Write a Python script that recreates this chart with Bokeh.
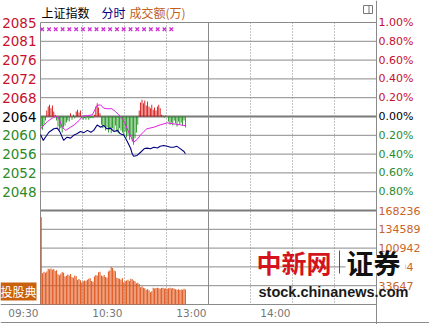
import numpy as np
from bokeh.plotting import figure
from bokeh.models import Range1d, ColumnDataSource
from bokeh.core.properties import value
from bokeh.embed import file_html
from bokeh.resources import INLINE

# ---------------- data ----------------
prev_close = 2064.55

pct_ticks = [1.0, 0.8, 0.6, 0.4, 0.2, 0.0, -0.2, -0.4, -0.6, -0.8]
price_labels = ["2085", "2081", "2076", "2072", "2068", "2064", "2060", "2056", "2052", "2048"]
pct_labels = ["1.00%", "0.80%", "0.60%", "0.40%", "0.20%", "0.00%", "0.20%", "0.40%", "0.60%", "0.80%"]
vol_ticks = [168236, 134589, 100942, 67294, 33647]
vol_labels = ["168236", "134589", "100942", "67294", "33647"]
time_ticks = [0, 60, 120, 180]
time_labels = ["09:30", "10:30", "13:00", "14:00"]

# index (navy line): minutes after 09:30, price
index_t = [0, 2, 4, 6, 9.5, 12, 14, 16.5, 19, 21.5, 24, 26, 28.5, 31, 33.5, 36, 38, 40.5, 43, 45,
           47.5, 50, 52.5, 55, 57, 59.5, 62, 64.5, 65.5, 66.5, 69, 71.5, 74, 76, 78.5, 81, 83.5,
           85.5, 88, 90.5, 93, 95, 97.5, 100, 102.5, 103.5]
index_p = [2060.6, 2059.3, 2060.2, 2061.1, 2061.85, 2062.0, 2061.1, 2059.3, 2060.0, 2059.8, 2060.5,
           2060.75, 2061.25, 2061.0, 2061.5, 2061.1, 2061.5, 2062.7, 2062.2, 2062.6, 2061.85, 2062.0,
           2061.25, 2061.5, 2060.75, 2060.5, 2059.05, 2057.45, 2056.35, 2055.8, 2056.0, 2056.7,
           2057.45, 2057.6, 2057.45, 2057.8, 2057.65, 2058.0, 2058.2, 2058.0, 2057.8, 2057.8,
           2058.0, 2057.45, 2056.85, 2056.35]

# unweighted index (magenta line)
avg_t = [0, 2.5, 5, 7.5, 9.5, 12, 14, 15.5, 18, 21.5, 24, 27.5, 30, 33.5, 37, 39.5, 40.5, 43, 45,
         47.5, 51, 53.5, 56, 59.5, 63, 66.5, 69, 71.5, 74, 76, 81, 85.5, 90.5, 95, 100, 103.5]
avg_p = [2061.8, 2062.7, 2063.45, 2064.0, 2064.4, 2064.6, 2063.5, 2062.2, 2061.5, 2062.2, 2062.7,
         2063.65, 2064.6, 2064.75, 2064.9, 2066.4, 2067.0, 2067.1, 2066.4, 2066.25, 2066.25,
         2065.65, 2064.9, 2063.65, 2061.1, 2058.9, 2059.5, 2060.5, 2061.3, 2061.85, 2062.2,
         2062.7, 2063.15, 2062.95, 2062.7, 2062.55]

# buy/sell power bars (price points relative to previous close), one per minute
power = [-2.2, -2.9, -1.8, -0.9, 1.3, 2.2, 2.6, 1.8, 2.4, 1.1,
         0.4, -0.9, -2.2, -3.1, -2.6, -3.5, -2.4, -2.0, -1.3, -0.9,
         -1.1, 0.7, -0.7, 0.4, -0.4, 1.1, 1.5, 0.9, 1.3, -0.4,
         -0.7, -0.4, -0.7, -0.2, -0.7, -0.4, -0.2, -0.4, 0.4, 2.2,
         2.9, 2.0, 0.7, -1.8, -2.6, -2.2, -3.1, -2.4, -3.5, -2.9,
         -3.7, -2.6, -3.1, -2.0, -3.3, -3.7, -2.6, -3.1, -3.5, -4.2,
         -3.3, -4.6, -4.0, -5.1, -4.4, -5.5, -6.2, -4.8, -3.5, -1.8,
         1.3, 3.1, 3.7, 2.9, 3.5, 2.4, 3.3, 2.2, 1.8, 2.6,
         1.5, 2.0, 1.3, 2.2, 2.6, 1.8, 0.4, 0.2, -0.2, 0.2,
         0.0, -1.1, -1.8, -1.3, -2.0, -0.9, -1.5, -2.2, -1.1, -1.8,
         -1.3, -2.0, -0.9, -2.4]

# turnover per minute (万)
volume = [156000, 56000, 58500, 57000, 59000, 64000, 63000, 64500, 62000, 63500,
          60000, 61500, 54000, 52500, 55000, 58000, 57000, 50000, 51500, 53500,
          52000, 54500, 49000, 48000, 52000, 50500, 44000, 45500, 43500, 40000,
          41500, 43000, 42000, 44500, 46000, 47000, 42000, 40500, 50000, 53000,
          52000, 57500, 58500, 52000, 50500, 53000, 49000, 48000, 59000, 61000,
          67000, 65500, 61000, 59500, 48000, 47000, 46000, 44500, 47000, 40000,
          41500, 43000, 44500, 42000, 46000, 45000, 43000, 41500, 38000, 39000,
          36500, 31000, 32500, 30000, 29000, 26500, 27500, 25500, 22000, 23500,
          30000, 28500, 29500, 30000, 29000, 28000, 29500, 30000, 28500, 29000,
          28000, 29000, 30000, 28500, 29500, 28000, 27500, 26500, 27500, 26000,
          27000, 26500, 28000, 27000]

# magenta cross markers along the top
mark_t = [1.2, 6.1, 10.9, 15.8, 20.6, 25.5, 30.3, 35.2, 40.0, 44.9,
          49.7, 54.6, 59.4, 64.3, 69.1, 74.0, 78.8, 83.7, 88.5, 93.4]
mark_level = 2083.7

# ---------------- layout helpers (page pixels -> data units) ----------------
W, H = 429, 324
LEFT_PX, PX_PER_MIN = 40.0, 1.4
ZERO_PY, PX_PER_PCT = 116.0, 94.0
SESSION = 240

def X(px):
    return (px - LEFT_PX) / PX_PER_MIN

def pct_of(py):
    return (ZERO_PY - py) / PX_PER_PCT

def price_of_pct(pct):
    return prev_close * (1 + pct / 100.0)

def Y(py):
    return price_of_pct(pct_of(py))

vmax = vol_ticks[0]          # volume at the -1% line, 0 at the -2% line
def vol_of_pct(pct):
    return (pct + 2.0) * vmax

RED, GREEN, BLACK = "#c8102e", "#2a8a2a", "#000000"
ORANGE = "#c8652a"
GRID = "#8a8a8a"

p = figure(width=W, height=H, x_range=Range1d(X(0), X(W)), y_range=Range1d(Y(H), Y(0)),
           min_border=0, toolbar_location=None, output_backend="svg",
           x_axis_location=None, y_axis_location=None)
p.extra_y_ranges = {"vol": Range1d(vol_of_pct(pct_of(H)), vol_of_pct(pct_of(0)))}
p.grid.grid_line_color = None
p.outline_line_color = None
p.background_fill_color = "white"
p.border_fill_color = "white"

# ---------------- grid ----------------
grid_pcts = [round(1.0 - 0.2 * i, 1) for i in range(16)]
thin = [g for g in grid_pcts if g not in (0.0, -1.0, -2.0)]
p.segment(x0=0, x1=SESSION, y0=[price_of_pct(g) for g in thin], y1=[price_of_pct(g) for g in thin],
          line_color=GRID, line_width=1)
p.segment(x0=0, x1=SESSION, y0=[price_of_pct(0.0), price_of_pct(-1.0)],
          y1=[price_of_pct(0.0), price_of_pct(-1.0)], line_color="#7a7a7a", line_width=2)
p.segment(x0=X(0), x1=SESSION, y0=price_of_pct(-2.0), y1=price_of_pct(-2.0),
          line_color=GRID, line_width=1)
p.segment(x0=X(0), x1=X(W), y0=Y(322), y1=Y(322), line_color=GRID, line_width=1)

dotted = [30, 60, 90, 150, 180, 210]
p.segment(x0=dotted, x1=dotted, y0=price_of_pct(1.0), y1=price_of_pct(-2.0),
          line_color="#8a8a8a", line_width=1, line_dash="1 2")
p.segment(x0=[0, 120], x1=[0, 120], y0=price_of_pct(1.0), y1=price_of_pct(-2.0),
          line_color=GRID, line_width=1)
p.segment(x0=SESSION, x1=SESSION, y0=Y(0), y1=Y(H), line_color=GRID, line_width=1)

# ---------------- volume bars ----------------
vmin = np.arange(len(volume)) + 0.5
p.vbar(x=vmin, top=volume, bottom=0, width=0.75, y_range_name="vol",
       fill_color="#e0561c", line_color=None)

# ---------------- power bars ----------------
pmin = np.arange(len(power)) + 0.5
psrc = ColumnDataSource(dict(
    x=pmin, top=[prev_close + v for v in power], bottom=[prev_close] * len(power),
    color=["#d40000" if v > 0 else "#108a10" for v in power]))
p.vbar(x="x", top="top", bottom="bottom", width=0.6, fill_color="color", line_color=None, source=psrc)

# ---------------- lines ----------------
p.line(avg_t, avg_p, line_color="#e020e0", line_width=1)
p.line(index_t, index_p, line_color="#000080", line_width=1.1)
p.scatter(mark_t, [mark_level] * len(mark_t), marker="x", size=5,
          line_color="#d030d0", line_width=1.3)

# ---------------- axis labels ----------------
def sign_color(v):
    return RED if v > 0 else (BLACK if v == 0 else GREEN)

lsrc = ColumnDataSource(dict(y=[price_of_pct(t) for t in pct_ticks], price=price_labels,
                             pct=pct_labels, c=[sign_color(t) for t in pct_ticks]))
p.text(x=0, y="y", text="price", source=lsrc, x_offset=-4, text_align="right",
       text_baseline="middle", text_color="c", text_font=value("DejaVu Sans"),
       text_font_size="13.5px")
p.text(x=SESSION, y="y", text="pct", source=lsrc, x_offset=2, text_align="left",
       text_baseline="middle", text_color="c", text_font=value("DejaVu Sans"),
       text_font_size="11px")
p.text(x=SESSION, y=vol_ticks, text=vol_labels, y_range_name="vol", x_offset=2,
       text_align="left", text_baseline="middle", text_color=ORANGE,
       text_font=value("DejaVu Sans"), text_font_size="11px")
p.text(x=time_ticks, y=Y(312), text=time_labels, x_offset=-2, text_align="right",
       text_baseline="middle", text_color="#777777", text_font=value("DejaVu Sans"),
       text_font_size="10.5px")

# ---------------- header ----------------
cjk = value("Noto Sans CJK SC")
p.text(x=[X(41), X(101), X(129)], y=Y(12), text=["上证指数", "分时", "成交额(万)"],
       text_color=["#000000", "#000080", "#c0601a"], text_align="left",
       text_baseline="middle", text_font=cjk, text_font_size="12px")
p.quad(left=X(363), right=X(372), top=Y(5), bottom=Y(13), fill_color=None,
       line_color="#777777", line_width=1)
p.segment(x0=X(368.5), x1=X(368.5), y0=Y(5), y1=Y(13), line_color="#777777", line_width=1)

# ---------------- badge & watermark ----------------
p.quad(left=X(0), right=X(36), top=Y(282), bottom=Y(300), fill_color="#c8600c", line_color=None)
p.text(x=X(18), y=Y(291), text=["投股典"], text_color="white", text_align="center",
       text_baseline="middle", text_font=cjk, text_font_size="12px")

p.text(x=X(256), y=Y(261), text=["中新网"], text_color="#d4141c", text_align="left",
       text_baseline="middle", text_font=cjk, text_font_size="25px", text_font_style="bold")
p.segment(x0=X(339), x1=X(339), y0=Y(250), y1=Y(273), line_color="#555555", line_width=1)
p.quad(left=X(345), right=X(405), top=Y(255), bottom=Y(274), fill_color="white", line_color=None)
p.text(x=X(346), y=Y(262), text=["证券"], text_color="#111111", text_align="left",
       text_baseline="middle", text_font=cjk, text_font_size="27px", text_font_style="bold")
p.text(x=X(258), y=Y(291), text=["stock.chinanews.com"], text_color="#1a1a1a",
       text_align="left", text_baseline="middle", text_font=value("Liberation Sans"),
       text_font_size="14.5px", text_font_style="bold")

open("out.html", "w").write(file_html(p, INLINE))
